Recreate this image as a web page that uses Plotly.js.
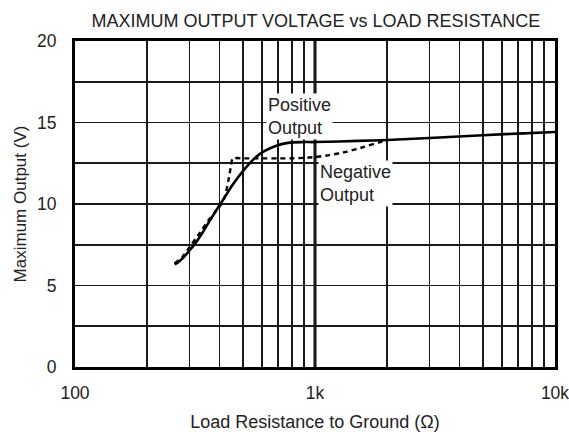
<!DOCTYPE html>
<html>
<head>
<meta charset="utf-8">
<script src="https://cdn.plot.ly/plotly-3.0.1.min.js"></script>
<style>html,body{margin:0;padding:0;background:#fff;}#chart{width:569px;height:432px;}</style>
</head>
<body>
<div id="chart"></div>
<script>
// Positive output (solid)
const posR = [260, 270, 282, 300, 316, 335, 350, 365, 380, 400, 425, 450, 475, 500, 527, 560, 600, 650, 700, 750, 800, 900, 1000, 1500, 2000, 3000, 5000, 7000, 10000];
const posV = [6.3, 6.45, 6.7, 7.15, 7.55, 8.1, 8.55, 9.0, 9.4, 9.92, 10.52, 11.1, 11.58, 12.0, 12.4, 12.8, 13.15, 13.42, 13.6, 13.72, 13.78, 13.8, 13.8, 13.87, 13.93, 14.05, 14.22, 14.32, 14.42];
// Negative output (dashed)
const negR = [260, 280, 300, 330, 360, 385, 408, 422, 435, 445, 454, 500, 600, 700, 800, 900, 1000, 1150, 1350, 1600, 1850, 2000];
const negV = [6.35, 6.75, 7.35, 8.2, 9.0, 9.55, 10.0, 10.5, 11.4, 12.2, 12.8, 12.8, 12.8, 12.8, 12.8, 12.83, 12.88, 13.0, 13.2, 13.5, 13.78, 13.92];

const xTickVals = [100,200,300,400,500,600,700,800,900,1000,2000,3000,4000,5000,6000,7000,8000,9000,10000];
const xTickText = ['100','','','','','','','','','1k','','','','','','','','','10k'];
const yTickVals = [0,2.5,5,7.5,10,12.5,15,17.5,20];
const yTickText = ['0','','5','','10','','15','','20'];

const FONT = 'Arial, "Liberation Sans", sans-serif';
const TXT = '#222';

const traces = [
  {x: posR, y: posV, type: 'scatter', mode: 'lines', line: {color: '#000', width: 2.6, shape: 'spline', smoothing: 1}, hoverinfo: 'skip'},
  {x: negR, y: negV, type: 'scatter', mode: 'lines', line: {color: '#000', width: 2.4, dash: '5px,4px', shape: 'spline', smoothing: 0.5}, hoverinfo: 'skip'}
];

const layout = {
  width: 569, height: 432,
  margin: {l: 75, r: 14, t: 41, b: 65},
  paper_bgcolor: '#fff', plot_bgcolor: '#fff',
  showlegend: false,
  font: {family: FONT, color: TXT, size: 17},
  title: {text: 'MAXIMUM OUTPUT VOLTAGE vs LOAD RESISTANCE', font: {family: FONT, size: 18, color: TXT}, x: 0.555, xanchor: 'center', y: 0.951, yanchor: 'middle'},
  xaxis: {
    type: 'log', range: [2, 4],
    tickvals: xTickVals, ticktext: xTickText, ticklabeloverflow: 'allow',
    ticks: 'outside', ticklen: 8, tickcolor: 'rgba(0,0,0,0)',
    showgrid: true, gridcolor: '#1a1a1a', gridwidth: 1.8,
    showline: true, mirror: true, linecolor: '#000', linewidth: 3,
    zeroline: false, tickfont: {family: FONT, size: 17.5, color: TXT},
    title: {text: 'Load Resistance to Ground (Ω)', font: {family: FONT, size: 18, color: TXT}, standoff: 15}
  },
  yaxis: {
    range: [0, 20],
    tickvals: yTickVals, ticktext: yTickText,
    ticks: 'outside', ticklen: 12, tickcolor: 'rgba(0,0,0,0)',
    showgrid: true, gridcolor: '#1a1a1a', gridwidth: 1.8,
    showline: true, mirror: true, linecolor: '#000', linewidth: 3,
    zeroline: false, tickfont: {family: FONT, size: 17.5, color: TXT},
    title: {text: 'Maximum Output (V)', font: {family: FONT, size: 17, color: TXT}, standoff: 7}
  },
  shapes: [
    {type: 'line', xref: 'paper', yref: 'paper', x0: 0.5, x1: 0.5, y0: 0, y1: 1, line: {color: '#000', width: 3}, layer: 'below'}
  ],
  annotations: [
    {xref: 'x', yref: 'y', x: 2.796, y: 16.8, xanchor: 'left', yanchor: 'top', align: 'left',
     text: 'Positive<br>Output', showarrow: false, bgcolor: '#fff', borderpad: 1,
     font: {family: FONT, size: 18, color: TXT}},
    {xref: 'x', yref: 'y', x: 3.0125, y: 12.72, xanchor: 'left', yanchor: 'top', align: 'left',
     text: 'Negative<br>Output', showarrow: false, bgcolor: '#fff', borderpad: 1,
     font: {family: FONT, size: 18, color: TXT}}
  ]
};

Plotly.newPlot('chart', traces, layout, {staticPlot: true, displayModeBar: false});
</script>
</body>
</html>
